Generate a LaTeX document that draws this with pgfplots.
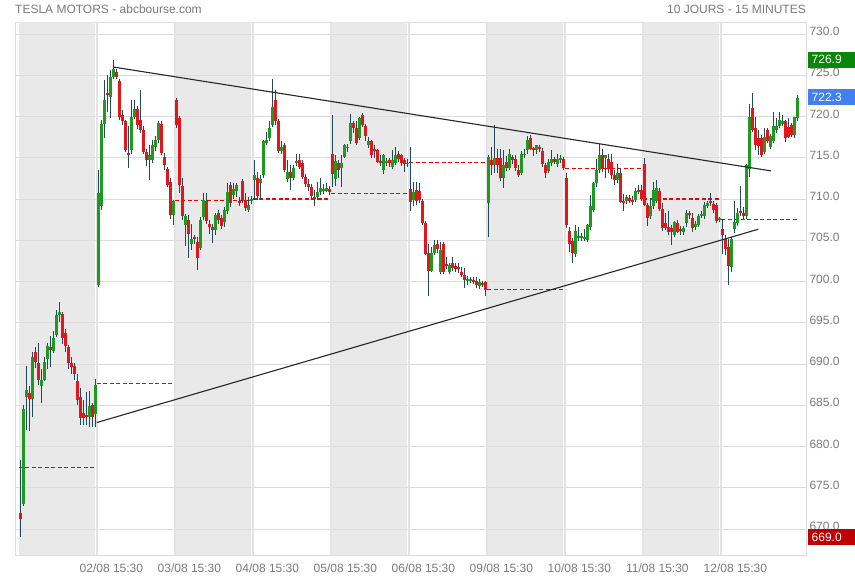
\documentclass[border=0pt]{standalone}
\usepackage{fontspec}
\setmainfont{Liberation Sans}
\usepackage{pgfplots}
\usepackage{pgfplotstable}
\pgfplotsset{compat=1.18}

\definecolor{cgreen}{HTML}{1E9A1E}
\definecolor{cred}{HTML}{E3161C}
\definecolor{wick}{HTML}{1F4A5C}
\definecolor{band}{HTML}{E9E9E9}
\definecolor{gridc}{HTML}{DCDCDC}
\definecolor{gridv}{HTML}{E4E4E4}
\definecolor{txt}{HTML}{7A7A7A}
\definecolor{boxgreen}{HTML}{0A870A}
\definecolor{boxblue}{HTML}{4080F2}
\definecolor{boxred}{HTML}{C00000}
\definecolor{prevclose}{HTML}{F00000}

% 15-minute candles, 26 per session: index o h l c
\pgfplotstableread{
x o h l c
0 672.0 678.4 669.0 671.2
1 673.1 685.0 672.8 684.5
2 686.0 689.8 682.0 686.8
3 686.5 687.3 681.9 685.8
4 685.8 691.5 683.6 690.9
5 691.4 692.0 689.5 690.2
6 690.1 692.5 687.5 688.1
7 687.3 689.4 685.3 688.1
8 688.1 690.8 687.9 690.3
9 690.6 692.5 689.4 692.2
10 692.1 693.4 689.7 691.7
11 691.6 694.0 691.3 693.2
12 693.5 696.5 693.3 695.9
13 695.9 697.5 695.1 696.3
14 696.1 696.3 692.4 693.2
15 693.7 694.2 691.5 692.2
16 692.1 692.3 689.4 690.1
17 690.1 690.8 688.8 689.6
18 689.8 690.1 688.1 688.8
19 687.9 688.8 685.0 685.6
20 686.0 687.1 682.6 683.4
21 684.0 685.7 682.6 683.5
22 683.8 686.6 682.6 683.6
23 683.6 686.7 682.4 684.9
24 685.0 685.3 682.4 683.6
25 683.9 688.2 682.4 687.5
26 699.6 713.5 699.4 710.7
27 709.2 719.6 708.7 719.1
28 719.1 724.4 717.4 722.0
29 722.8 725.0 720.5 722.6
30 722.4 725.6 719.8 724.8
31 724.8 726.9 724.6 725.8
32 725.4 725.8 724.5 724.8
33 724.3 724.5 719.6 720.0
34 720.2 720.8 719.0 719.4
35 719.4 719.6 715.7 715.9
36 715.6 718.8 713.7 715.3
37 715.9 722.0 715.5 720.0
38 720.0 722.0 719.7 720.9
39 720.9 721.3 718.5 719.0
40 719.6 723.2 718.0 718.4
41 718.4 718.8 715.5 715.7
42 715.7 716.0 714.0 714.7
43 714.7 716.5 712.3 715.3
44 714.7 717.1 714.3 716.5
45 716.3 717.7 715.8 717.1
46 717.2 719.4 716.8 719.2
47 719.1 719.4 715.4 715.6
48 715.1 715.6 713.5 714.1
49 713.7 713.9 711.4 711.7
50 712.1 712.6 707.6 708.1
51 708.0 709.9 706.8 709.7
52 722.0 722.3 718.6 719.0
53 719.8 720.0 710.7 711.7
54 711.6 712.5 707.5 707.9
55 706.8 708.2 704.3 707.9
56 707.5 708.0 702.8 705.8
57 704.6 707.0 703.8 705.2
58 705.4 705.6 704.6 705.1
59 704.8 705.4 701.4 702.9
60 704.1 707.8 703.8 707.5
61 707.8 710.7 707.5 709.9
62 709.7 710.7 707.0 707.3
63 707.0 707.5 705.8 706.6
64 706.6 707.0 704.7 706.3
65 706.2 708.3 705.6 708.1
66 708.3 708.7 707.0 707.5
67 707.7 708.0 706.4 706.7
68 707.2 709.0 706.6 708.7
69 708.6 711.9 708.2 710.9
70 711.7 712.0 709.0 709.5
71 710.5 711.9 710.0 711.2
72 711.0 711.9 710.2 711.7
73 709.8 710.2 709.2 709.6
74 712.2 712.4 709.5 709.9
75 709.9 710.7 708.5 708.9
76 708.7 710.3 708.4 709.3
77 709.8 710.4 709.4 710.0
78 712.3 714.7 709.9 712.9
79 712.6 713.3 709.9 710.4
80 712.0 712.9 709.9 712.4
81 712.9 717.2 712.5 717.0
82 716.8 718.1 716.5 717.2
83 717.4 719.4 717.0 718.6
84 719.0 724.5 718.7 721.2
85 722.0 723.2 719.0 719.4
86 719.5 719.7 715.6 715.8
87 715.8 717.0 715.5 716.3
88 716.5 716.8 713.3 713.5
89 712.4 714.7 712.1 713.3
90 713.3 714.1 711.1 712.5
91 712.6 714.1 712.3 713.8
92 714.4 715.5 714.0 714.6
93 714.7 715.5 713.6 713.9
94 714.4 714.7 712.4 712.7
95 712.7 713.0 711.5 711.8
96 711.8 712.4 711.0 711.4
97 711.5 711.8 709.9 710.4
98 710.3 711.1 709.1 710.0
99 710.2 712.1 709.9 710.9
100 710.8 712.5 710.5 711.3
101 711.1 711.8 710.6 711.2
102 711.0 711.9 710.8 711.3
103 711.2 711.6 710.5 710.8
104 715.5 720.2 711.5 713.0
105 712.4 715.3 711.6 714.6
106 714.3 714.7 712.5 713.5
107 713.7 715.3 711.5 714.4
108 715.1 716.7 715.0 716.5
109 716.2 716.7 715.7 716.3
110 717.0 720.3 716.7 719.2
111 719.2 719.4 718.0 718.6
112 718.6 719.4 716.5 716.8
113 717.4 720.0 717.1 719.8
114 720.2 720.4 718.7 719.0
115 718.9 719.1 717.0 717.6
116 716.6 717.5 716.2 717.0
117 717.0 717.2 715.0 715.4
118 716.1 716.5 715.0 715.8
119 715.9 716.1 714.3 714.5
120 714.6 715.3 714.0 714.4
121 713.5 715.5 713.0 715.3
122 714.4 715.0 714.0 714.5
123 714.7 715.0 713.9 714.4
124 713.9 715.9 713.6 714.7
125 714.4 716.3 714.1 715.3
126 715.5 715.8 714.5 714.9
127 715.3 715.5 714.0 714.4
128 714.7 715.0 713.3 714.2
129 714.2 714.8 713.9 714.4
130 711.2 716.3 708.5 709.6
131 709.9 712.1 709.1 710.9
132 711.1 712.0 709.3 709.8
133 711.0 712.0 709.5 709.9
134 709.8 710.0 706.8 707.1
135 707.1 707.3 703.2 703.3
136 703.4 704.6 698.2 701.3
137 701.3 704.2 701.1 703.4
138 703.5 705.0 703.2 704.4
139 704.5 705.0 703.5 703.9
140 701.1 704.8 700.9 703.8
141 704.5 704.8 700.9 701.1
142 702.1 703.0 701.5 702.0
143 701.2 702.3 700.9 702.0
144 702.3 703.0 701.3 701.6
145 701.9 702.2 701.2 701.5
146 701.8 702.2 701.0 701.5
147 701.2 701.7 700.5 700.8
148 700.8 701.6 699.2 700.2
149 700.2 700.7 699.6 700.3
150 700.2 700.6 699.8 700.3
151 700.2 700.6 699.7 700.0
152 700.0 700.5 699.2 699.6
153 699.4 700.3 699.1 699.9
154 699.8 700.1 699.3 699.7
155 699.9 700.0 698.2 699.0
156 709.5 715.3 705.4 715.1
157 714.7 716.3 712.9 714.1
158 714.1 719.0 713.2 715.0
159 715.0 716.1 713.2 714.1
160 715.0 716.1 712.2 712.6
161 712.5 715.9 711.3 714.1
162 714.5 715.2 713.4 713.8
163 713.8 716.1 713.5 715.4
164 715.1 715.4 714.3 714.7
165 714.9 715.4 713.4 713.7
166 713.5 714.1 712.7 712.9
167 713.2 715.8 712.9 715.4
168 715.3 716.0 715.0 715.5
169 715.9 717.6 715.5 717.1
170 717.4 717.8 715.9 716.1
171 716.1 716.3 715.2 716.0
172 715.9 716.6 715.5 716.5
173 716.3 716.5 715.7 716.1
174 715.8 716.2 713.9 714.3
175 714.1 714.3 712.5 713.1
176 713.4 714.9 713.1 714.5
177 714.3 715.9 714.0 714.9
178 714.9 715.1 714.2 714.5
179 714.2 715.4 713.9 714.9
180 714.7 715.3 714.4 715.0
181 714.9 715.1 713.5 713.7
182 712.5 713.2 706.5 706.8
183 706.1 706.6 703.6 704.5
184 704.9 705.3 702.2 703.4
185 703.3 706.8 703.0 706.1
186 705.3 706.6 704.9 705.5
187 705.3 705.9 704.9 705.5
188 705.2 706.4 704.9 705.4
189 705.0 707.0 704.8 706.8
190 706.6 710.5 706.3 709.1
191 708.7 712.1 708.4 711.9
192 711.9 714.9 711.5 713.5
193 713.5 716.7 713.2 715.3
194 715.3 716.1 713.3 713.6
195 715.0 715.4 712.5 715.3
196 714.9 715.4 713.2 713.6
197 714.5 715.4 712.4 712.9
198 712.9 713.5 711.7 712.3
199 712.3 714.2 712.0 713.2
200 713.1 713.7 709.5 709.6
201 709.7 710.6 708.5 709.6
202 709.8 710.5 709.4 710.2
203 710.1 710.5 709.5 709.8
204 709.9 710.3 709.3 709.6
205 709.9 711.3 709.6 711.0
206 711.1 711.7 710.6 710.9
207 711.1 711.7 709.7 710.0
208 714.2 715.0 709.1 709.3
209 709.3 709.5 706.7 707.7
210 708.0 710.1 707.6 709.1
211 709.1 712.1 708.8 711.1
212 709.8 712.3 709.5 711.3
213 711.0 711.3 708.5 708.8
214 708.8 709.5 706.1 706.5
215 707.1 708.3 706.2 706.5
216 706.6 708.5 705.7 706.0
217 706.5 706.8 704.4 706.0
218 705.7 707.3 705.4 707.2
219 707.1 707.4 705.9 706.0
220 706.4 706.7 705.7 706.2
221 706.0 706.7 705.7 706.5
222 707.1 708.7 706.6 708.3
223 708.2 708.5 707.6 708.1
224 707.7 708.3 706.0 706.5
225 706.6 707.3 706.3 707.0
226 706.9 708.2 706.6 708.0
227 708.0 708.6 707.7 708.1
228 707.9 709.6 707.6 709.3
229 709.2 709.8 708.9 709.5
230 709.8 710.7 709.1 709.6
231 709.4 709.7 708.3 708.7
232 709.3 709.5 707.1 707.3
233 707.5 707.8 707.2 707.6
234 706.4 707.5 703.4 705.6
235 705.2 705.6 703.2 704.0
236 704.2 705.2 699.6 701.9
237 701.8 705.4 701.1 705.2
238 706.4 709.7 705.9 707.2
239 707.1 708.9 706.7 708.3
240 708.5 711.6 707.9 708.3
241 708.3 709.0 707.6 707.9
242 707.9 714.3 707.6 714.1
243 713.7 721.5 712.7 720.0
244 721.0 722.8 718.1 718.4
245 718.6 720.0 716.0 716.5
246 717.4 718.4 715.3 716.4
247 717.4 717.8 715.1 715.3
248 715.7 718.6 715.5 717.5
249 718.4 718.6 716.8 717.0
250 716.3 717.9 716.1 717.6
251 717.0 720.6 716.8 718.8
252 718.4 719.8 718.0 718.8
253 718.9 720.6 718.6 719.6
254 719.1 720.2 718.8 719.5
255 719.4 719.6 716.9 717.4
256 718.7 719.8 717.4 717.5
257 719.0 719.2 717.5 717.8
258 717.8 720.0 717.4 720.0
259 719.8 722.6 719.5 722.3
}\candles

\begin{document}
\begin{tikzpicture}
\path[use as bounding box] (0,0) rectangle (855pt,580pt);
\begin{axis}[
  at={(15pt,25pt)}, anchor=south west,
  width=791pt, height=533pt, scale only axis,
  xmin=-1.83, xmax=261.83, ymin=666.85, ymax=731.45,
  clip=false,
  axis line style={draw=gridc},
  major tick length=0pt,
  ytick={670,675,...,730},
  yticklabel pos=right,
  yticklabel style={font=\fontsize{12}{14}\selectfont, text=txt, yshift=2.5pt,
    /pgf/number format/fixed, /pgf/number format/fixed zerofill,
    /pgf/number format/precision=1, /pgf/number format/assume math mode=true},
  xtick={30.3,56.3,82.3,108.3,134.3,160.3,186.3,212.3,238.3},
  xticklabels={02/08 15:30,03/08 15:30,04/08 15:30,05/08 15:30,06/08 15:30,09/08 15:30,10/08 15:30,11/08 15:30,12/08 15:30},
  xticklabel style={font=\fontsize{12}{14}\selectfont, text=txt, yshift=-5pt},
]
% shaded sessions and grid
\fill[band] (axis cs:-0.5,666.85) rectangle (axis cs:24.8,731.45);
\fill[band] (axis cs:51.5,666.85) rectangle (axis cs:76.8,731.45);
\fill[band] (axis cs:103.5,666.85) rectangle (axis cs:128.8,731.45);
\fill[band] (axis cs:155.5,666.85) rectangle (axis cs:180.8,731.45);
\fill[band] (axis cs:207.5,666.85) rectangle (axis cs:232.8,731.45);
\pgfplotsinvokeforeach{670,675,...,730}{
  \draw[gridc, line width=0.9pt] (axis cs:-1.83,#1) -- (axis cs:261.83,#1);
}
\pgfplotsinvokeforeach{25.5,51.5,77.5,103.5,129.5,155.5,181.5,207.5,233.5}{
  \draw[gridv, line width=1.2pt] (axis cs:#1,666.85) -- (axis cs:#1,731.45);
}

% previous close of each session
\pgfplotsset{pc/.style={prevclose, line width=1.1pt, dash pattern=on 4pt off 2.5pt}}
\addplot[pc] coordinates {(-0.5,677.4) (25.2,677.4)};
\addplot[pc] coordinates {(25.5,687.6) (51.2,687.6)};
\addplot[pc] coordinates {(51.5,709.8) (77.2,709.8)};
\addplot[pc] coordinates {(77.5,710.0) (103.2,710.0)};
\addplot[pc] coordinates {(103.5,710.7) (129.2,710.7)};
\addplot[pc] coordinates {(129.5,714.45) (155.2,714.45)};
\addplot[pc] coordinates {(155.5,699.0) (181.2,699.0)};
\addplot[pc] coordinates {(181.5,713.7) (207.2,713.7)};
\addplot[pc] coordinates {(207.5,710.0) (233.2,710.0)};
\addplot[pc] coordinates {(233.5,707.5) (259.5,707.5)};

% wicks
\addplot[only marks, mark=*, mark size=0pt,
  error bars/.cd, y dir=both, y explicit, error mark=none,
  error bar style={draw=wick, line width=0.9pt}]
  table[x=x, y expr={(\thisrow{h}+\thisrow{l})/2}, y error expr={(\thisrow{h}-\thisrow{l})/2}] {\candles};
% rising bodies
\addplot[only marks, mark=*, mark size=0pt,
  restrict expr to domain={\thisrow{c}-\thisrow{o}}{0:100},
  error bars/.cd, y dir=both, y explicit, error mark=none,
  error bar style={draw=cgreen, line width=2.7pt}]
  table[x=x, y expr={(\thisrow{o}+\thisrow{c})/2}, y error expr={max(abs(\thisrow{c}-\thisrow{o})/2,0.1)}] {\candles};
% falling bodies
\addplot[only marks, mark=*, mark size=0pt,
  restrict expr to domain={\thisrow{c}-\thisrow{o}}{-100:-0.001},
  error bars/.cd, y dir=both, y explicit, error mark=none,
  error bar style={draw=cred, line width=2.7pt}]
  table[x=x, y expr={(\thisrow{o}+\thisrow{c})/2}, y error expr={max(abs(\thisrow{c}-\thisrow{o})/2,0.1)}] {\candles};

% trend lines
\addplot[black!85, line width=1.1pt] coordinates {(30.8,726.0) (250.2,713.4)};
\addplot[black!85, line width=1.1pt] coordinates {(25.4,682.9) (245.9,706.33)};

% max / last / min
\node[anchor=west, xshift=2pt, text=white, inner xsep=3.5pt, inner ysep=0pt, minimum height=16pt, text width=40pt, align=left, font=\fontsize{12}{14}\selectfont, fill=boxgreen] at (axis cs:261.83,726.9) {726.9};
\node[anchor=west, xshift=2pt, text=white, inner xsep=3.5pt, inner ysep=0pt, minimum height=16pt, text width=40pt, align=left, font=\fontsize{12}{14}\selectfont, fill=boxblue] at (axis cs:261.83,722.3) {722.3};
\node[anchor=west, xshift=2pt, text=white, inner xsep=3.5pt, inner ysep=0pt, minimum height=16pt, text width=40pt, align=left, font=\fontsize{12}{14}\selectfont, fill=boxred] at (axis cs:261.83,669.0) {669.0};
\end{axis}
\node[anchor=west, inner sep=0pt, text=txt, font=\fontsize{12}{14}\selectfont] at (15pt,571pt) {TESLA MOTORS - abcbourse.com};
\node[anchor=east, inner sep=0pt, text=txt, font=\fontsize{12}{14}\selectfont] at (806pt,571pt) {10 JOURS - 15 MINUTES};
\end{tikzpicture}
\end{document}
